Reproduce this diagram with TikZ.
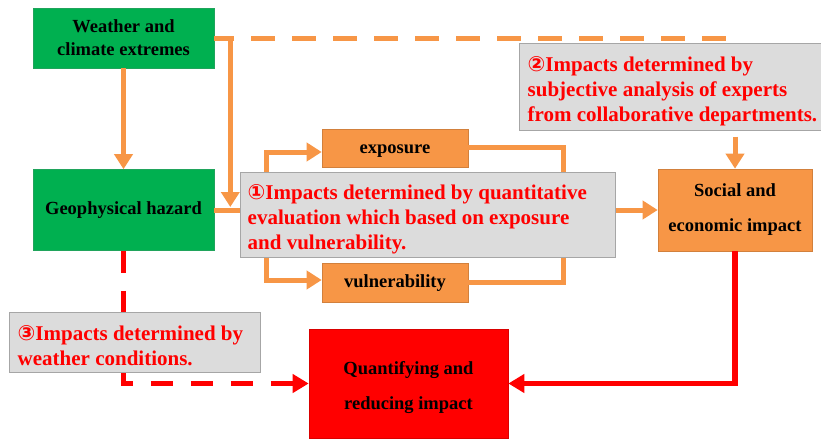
\documentclass[tikz,border=0pt]{standalone}
\usepackage{fontspec}
\setmainfont{Liberation Serif}
\newfontfamily\circfont{DejaVu Sans}
\usetikzlibrary{arrows.meta,calc}
\definecolor{boxgreen}{HTML}{00B050}
\definecolor{boxorange}{HTML}{F79646}
\definecolor{noteline}{HTML}{A6A6A6}
\definecolor{notefill}{HTML}{DCDCDC}
\newcommand{\circnum}[1]{{\circfont #1}}
\begin{document}
\begin{tikzpicture}[x=1pt,y=-1pt,
  base/.style={inner sep=0pt, align=center, line width=0.6pt,
    font=\fontsize{18.5}{23}\selectfont\bfseries},
  greenbox/.style={base, fill=boxgreen, draw=boxgreen!75!gray},
  orangebox/.style={base, fill=boxorange, draw=boxorange!85!black},
  redbox/.style={base, fill=red, draw=red!85!black},
  oneline/.style={text height=14pt, text depth=4pt},
  note/.style={fill=notefill, draw=noteline, line width=1pt, inner sep=0pt},
  notetext/.style={inner sep=0pt, align=left, text=red,
    font=\fontsize{21}{25}\selectfont\bfseries},
  flow/.style={boxorange, line width=5pt, -{Triangle[width=18pt,length=15pt]}},
  plainflow/.style={boxorange, line width=5pt},
  dashflow/.style={boxorange, line width=5pt, dash pattern=on 24pt off 17pt, dash phase=20pt},
  redflow/.style={red, line width=5.5pt, -{Triangle[width=18pt,length=16pt]}},
  reddash/.style={red, line width=5.5pt, dash pattern=on 22pt off 18pt,
    -{Triangle[width=18pt,length=16pt]}},
]
\useasboundingbox (0,0) rectangle (821,439);

% boxes
\node[greenbox, minimum width=181, minimum height=60] (wx) at (123.5,38)
  {Weather and\\climate extremes};
\node[greenbox, minimum width=181, minimum height=81] (geo) at (123.5,210)
  {Geophysical hazard};
\node[orangebox, oneline, minimum width=146, minimum height=38] (exp) at (395,148)
  {exposure};
\node[orangebox, oneline, minimum width=146, minimum height=39] (vul) at (395,282.5)
  {vulnerability};
\node[orangebox, minimum width=154, minimum height=82, font=\fontsize{18.5}{35}\selectfont\bfseries]
  (soc) at (735,210) {Social and\\economic impact};
\node[redbox, minimum width=199, minimum height=109] (quant) at (408.5,383.5) {};
\node[base, font=\fontsize{18.5}{35}\selectfont\bfseries] (quantt)
  at ($(quant.center)+(0,4.5)$) {Quantifying and\\reducing impact};

% note on the quantitative route
\node[note, minimum width=375, minimum height=85] (q1) at (427.5,214.5) {};
\node[notetext, anchor=west] (q1t) at ($(q1.west)+(8,5)$)
  {\circnum{①}Impacts determined by quantitative\\
   evaluation which based on exposure\\
   and vulnerability.};

% note on the expert route
\node[note, minimum width=302, minimum height=87] (q2) at (670,86.5) {};
\node[notetext, anchor=west] (q2t) at ($(q2.west)+(9,4.5)$)
  {\circnum{②}Impacts determined by\\
   subjective analysis of experts\\
   from collaborative departments.};

% main flow
\draw[flow] (wx.south) -- (geo.north);
\coordinate (split) at ($(wx.east)+(16,0)$);
\coordinate (hit) at ($(geo.east -| split)+(0,-3)$);
\draw[flow] (wx.east) -- (split) -- (hit);
\draw[dashflow] (split) -- (soc.north |- wx.east);
\draw[plainflow] (geo.east) -- (geo.east -| q1.west);

% exposure and vulnerability loops
\draw[flow] ([xshift=27pt]q1.north west) |- ($(exp.west)+(0,4)$);
\draw[plainflow] ($(exp.east)+(0,-1)$) -| ([xshift=-52pt]q1.north east);
\draw[flow] ([xshift=27pt]q1.south west) |- ($(vul.west)+(0,-2.5)$);
\draw[plainflow] (vul.east) -| ([xshift=-52pt]q1.south east);

\draw[flow] (q1.east |- soc.west) -- (soc.west);
\draw[flow] ($(soc.north |- q2.south)+(0,6)$) -- (soc.north);
\draw[redflow] (soc.south) |- (quant.east);

% weather-condition route, under its note
\draw[reddash] (geo.south) |- (quant.west);
\node[note, minimum width=251, minimum height=60] (q3) at (134.5,342) {};
\node[notetext, anchor=west] (q3t) at ($(q3.west)+(9,3.5)$)
  {\circnum{③}Impacts determined by\\
   weather conditions.};
\end{tikzpicture}
\end{document}
